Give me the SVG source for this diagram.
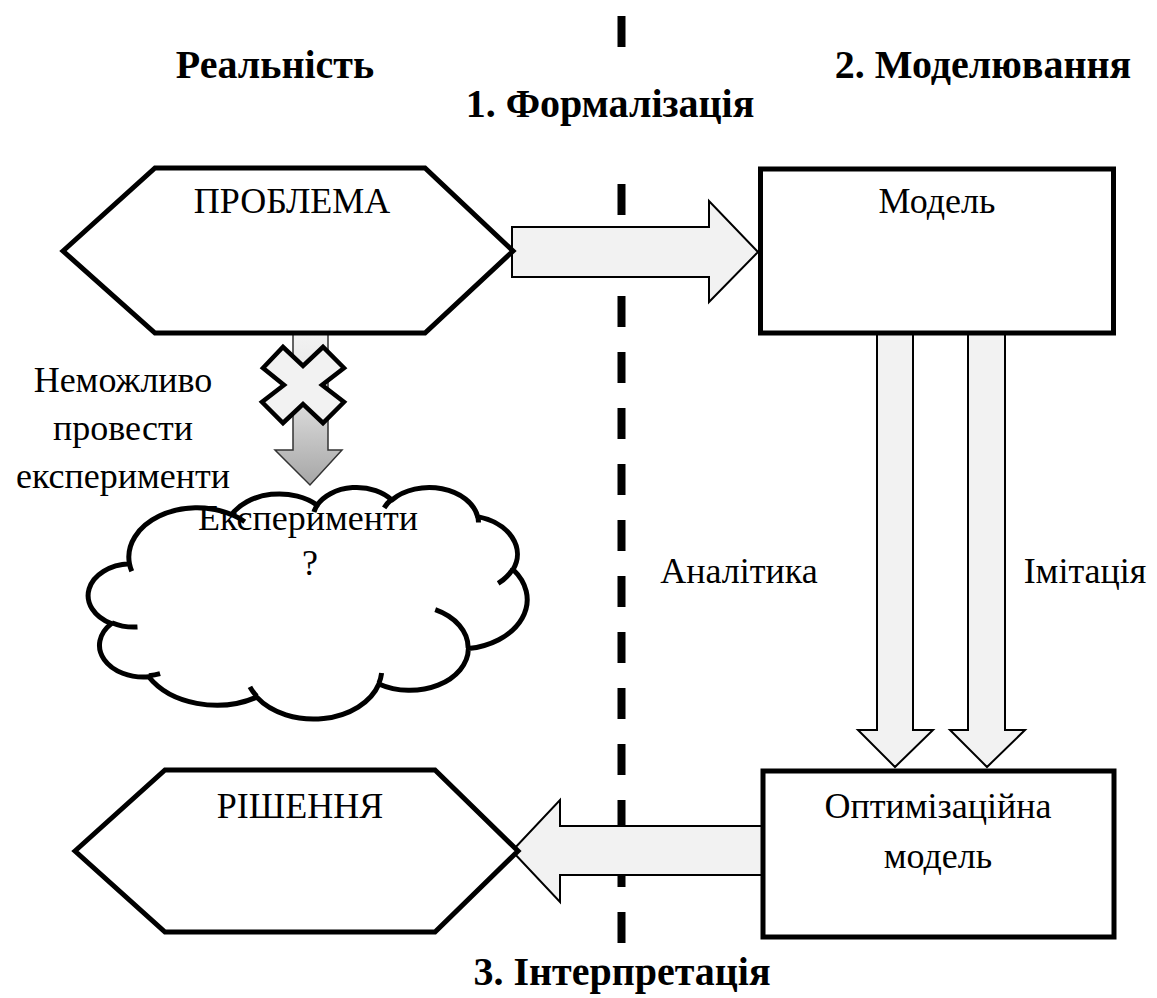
<svg xmlns="http://www.w3.org/2000/svg" width="1157" height="998" viewBox="0 0 1157 998">
  <defs>
    <style>
      text { font-family: "Liberation Serif", Tinos, "Times New Roman", "DejaVu Serif", serif; fill: #000; text-anchor: middle; }
      .t { font-size: 36px; font-weight: normal; }
      .h { font-size: 40px; font-weight: bold; }
      .shape { fill: #fff; stroke: #000; stroke-width: 5; stroke-linejoin: miter; }
      .flow { fill: #f2f2f2; stroke: #000; stroke-width: 2; stroke-linejoin: miter; }
      .divider { stroke: #000; stroke-width: 8; fill: none; }
      .cloud { fill: #fff; stroke: #000; stroke-width: 5; stroke-linejoin: round; }
      .cloud-detail { fill: none; stroke: #000; stroke-width: 5; }
    </style>
    <linearGradient id="fadeDown" x1="0" y1="0" x2="0" y2="1">
      <stop offset="0" stop-color="#f2f2f2"/>
      <stop offset="0.35" stop-color="#e6e6e6"/>
      <stop offset="1" stop-color="#a6a6a6"/>
    </linearGradient>
  </defs>

  <rect width="1157" height="998" fill="#fff"/>

  <!-- vertical divider between reality and modelling -->
  <g id="divider">
    <line class="divider" x1="621.5" y1="16" x2="621.5" y2="47"/>
    <line class="divider" x1="621.5" y1="184" x2="621.5" y2="943" stroke-dasharray="31 25"/>
  </g>

  <!-- section titles -->
  <g id="titles">
    <text class="h" x="275" y="78" font-family="Liberation Serif">Реальність</text>
    <text class="h" x="983" y="78" font-family="Liberation Serif">2. Моделювання</text>
    <text class="h" x="610" y="117" font-family="Liberation Serif">1. Формалізація</text>
    <text class="h" x="622" y="985" font-family="Liberation Serif">3. Інтерпретація</text>
  </g>

  <g id="connectors">
    <!-- formalisation: problem -> model -->
    <polygon class="flow" points="512,227 709,227 709,201 758,252 709,302 709,277 512,277"/>
    <!-- analytics: model -> optimisation model -->
    <polygon class="flow" points="877,333 913,333 913,730 933,730 895,767 858,730 877,730"/>
    <!-- simulation: model -> optimisation model -->
    <polygon class="flow" points="968,333 1005,333 1005,730 1025,730 987,767 950,730 968,730"/>
    <!-- interpretation: optimisation model -> solution -->
    <polygon class="flow" points="763,826 560,826 560,800 512,851 560,902 560,875 763,875"/>
    <!-- blocked path: problem -> experiments -->
    <polygon points="293,333 328,333 328,450 342,450 310,485 275,450 293,450" fill="url(#fadeDown)" stroke="#333" stroke-width="1.5"/>
    <polygon points="263,368 283,347 303,366 323,347 344,368 322,385 344,402 323,423 303,404 283,423 262,402 284,385" fill="#f2f2f2" stroke="#000" stroke-width="4.5" stroke-linejoin="miter"/>
  </g>

  <g id="edge-labels">
    <text class="t" x="123" y="392" font-family="Liberation Serif">Неможливо</text>
    <text class="t" x="123" y="440" font-family="Liberation Serif">провести</text>
    <text class="t" x="123" y="488" font-family="Liberation Serif">експерименти</text>
    <text class="t" x="739" y="583" font-family="Liberation Serif">Аналітика</text>
    <text class="t" x="1085" y="583" font-family="Liberation Serif">Імітація</text>
  </g>

  <g id="problem">
    <polygon class="shape" points="63,251 155,168 425,168 513,251 425,333 155,333"/>
    <text class="t" x="292" y="213" font-family="Liberation Serif">ПРОБЛЕМА</text>
  </g>

  <g id="model">
    <rect class="shape" x="760.5" y="169" width="353" height="164"/>
    <text class="t" x="937" y="213" font-family="Liberation Serif">Модель</text>
  </g>

  <g id="experiments">
    <path class="cloud" d="M129.45,563.71
      A68.31,49.25 0 0 1 231.68,514.58
      A53.95,38.94 0 0 1 317.18,505.09
      A44.16,31.86 0 0 1 391.81,500.00
      A49.13,35.34 0 0 1 477.64,516.59
      A53.95,38.97 0 0 1 513.04,569.55
      A68.53,49.41 0 0 1 468.38,648.54
      A58.52,42.16 0 0 1 378.88,683.97
      A68.30,49.38 0 0 1 256.73,697.12
      A78.09,56.50 0 0 1 148.73,676.78
      A44.10,31.71 0 0 1 111.39,623.62
      A43.95,31.86 0 0 1 129.45,563.71 Z"/>
    <path class="cloud-detail" d="M137.47,626.98 A43.95,31.86 0 0 1 111.85,622.71
      M160.08,673.72 A44.10,31.71 0 0 1 148.87,675.76
      M256.69,696.18 A68.30,49.38 0 0 1 249.92,686.83
      M381.61,672.92 A68.30,49.38 0 0 1 378.91,683.15
      M435.24,609.71 A58.52,42.16 0 0 1 468.13,647.94
      M512.82,569.00 A53.95,38.97 0 0 1 498.16,583.32
      M477.67,515.78 A49.13,35.34 0 0 1 478.45,522.55
      M384.15,507.88 A49.13,35.34 0 0 1 391.65,499.24
      M313.97,512.00 A44.16,31.86 0 0 1 317.61,504.55
      M231.62,514.52 A68.31,49.25 0 0 1 244.76,521.75
      M131.75,571.31 A68.31,49.25 0 0 1 129.46,563.71"/>
    <text class="t" x="308" y="530" font-family="Liberation Serif">Експерименти</text>
    <text class="t" x="310" y="575" font-family="Liberation Serif">?</text>
  </g>

  <g id="solution">
    <polygon class="shape" points="75,851 165,770 435,770 518,851 435,932 165,932"/>
    <text class="t" x="300" y="818" font-family="Liberation Serif">РІШЕННЯ</text>
  </g>

  <g id="optimisation-model">
    <rect class="shape" x="763" y="771" width="351" height="166"/>
    <text class="t" x="938" y="818" font-family="Liberation Serif">Оптимізаційна</text>
    <text class="t" x="938" y="868" font-family="Liberation Serif">модель</text>
  </g>
</svg>
